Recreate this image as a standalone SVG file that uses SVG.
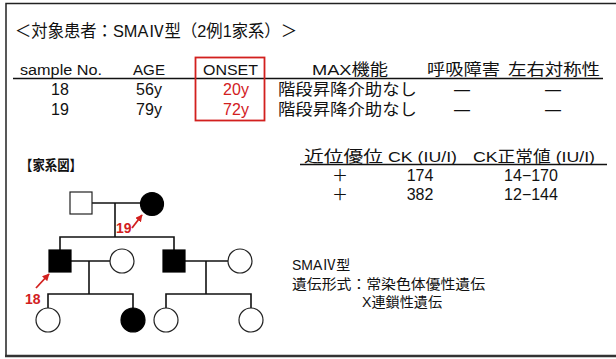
<svg xmlns="http://www.w3.org/2000/svg" width="616" height="359" viewBox="0 0 616 359">
<style>
text{font-family:"Liberation Sans","Noto Sans CJK JP",sans-serif;fill:#111}
.h{font-size:15.5px}
.t{font-size:16px}
.red{fill:#d2201e}
.c{text-anchor:middle}
.ln{stroke:#111;stroke-width:1.6;fill:none}
.open{fill:#fff;stroke:#222;stroke-width:1.2}
.fill{fill:#000;stroke:#000;stroke-width:1.2}
.arr{stroke:#d2201e;stroke-width:1.8;fill:none}
.lab{font-size:14px;font-weight:bold;fill:#d2201e}
</style>
<defs>
<marker id="ah" viewBox="0 0 10 10" refX="9" refY="5" markerWidth="4" markerHeight="4" orient="auto">
<path d="M0,0 L10,5 L0,10 z" fill="#d2201e"/>
</marker>
</defs>
<rect x="0" y="0" width="616" height="359" fill="#fff"/>
<!-- frame -->
<path d="M6,355 L6,3.5 L616,3.5" fill="none" stroke="#222" stroke-width="1.5"/>
<line x1="5" y1="356" x2="616" y2="356" stroke="#333" stroke-width="2.5"/>

<g id="title">
<text x="15" y="37" font-size="16.5" textLength="282" lengthAdjust="spacingAndGlyphs">＜対象患者：SMAⅣ型（2例1家系）＞</text>
</g>

<g id="table1">
<text class="h" x="20" y="75" textLength="82" lengthAdjust="spacingAndGlyphs">sample No.</text>
<text class="h" x="133" y="75" textLength="32" lengthAdjust="spacingAndGlyphs">AGE</text>
<text class="h" x="203" y="75" textLength="55" lengthAdjust="spacingAndGlyphs">ONSET</text>
<text class="h" x="312" y="75" textLength="76" lengthAdjust="spacingAndGlyphs">MAX機能</text>
<text class="h" x="427" y="75" textLength="73" lengthAdjust="spacingAndGlyphs">呼吸障害</text>
<text class="h" x="508" y="75" textLength="92" lengthAdjust="spacingAndGlyphs">左右対称性</text>
<line x1="13" y1="78.5" x2="603" y2="78.5" stroke="#111" stroke-width="1.6"/>
<text class="t c" x="60" y="95">18</text>
<text class="t c" x="149" y="95">56y</text>
<text class="t c red" x="236" y="95">20y</text>
<text class="t" x="278" y="95" textLength="139" lengthAdjust="spacingAndGlyphs">階段昇降介助なし</text>
<text class="t c" x="462" y="95">—</text>
<text class="t c" x="553" y="95">—</text>
<text class="t c" x="60" y="115">19</text>
<text class="t c" x="149" y="115">79y</text>
<text class="t c red" x="236" y="115">72y</text>
<text class="t" x="278" y="115" textLength="139" lengthAdjust="spacingAndGlyphs">階段昇降介助なし</text>
<text class="t c" x="462" y="115">—</text>
<text class="t c" x="553" y="115">—</text>
<rect x="195.5" y="57.5" width="69" height="63" fill="none" stroke="#d2201e" stroke-width="1.8"/>
</g>

<g id="table2">
<text class="h" x="304" y="162" textLength="79" lengthAdjust="spacingAndGlyphs">近位優位</text>
<text class="h" x="388" y="162" textLength="69" lengthAdjust="spacingAndGlyphs">CK (IU/I)</text>
<text class="h" x="473" y="162" textLength="122" lengthAdjust="spacingAndGlyphs">CK正常値 (IU/I)</text>
<line x1="300" y1="164.5" x2="607" y2="164.5" stroke="#111" stroke-width="1.6"/>
<text class="t c" x="340" y="181">＋</text>
<text class="t c" x="420" y="181">174</text>
<text class="t c" x="531" y="181">14−170</text>
<text class="t c" x="340" y="200">＋</text>
<text class="t c" x="420" y="200">382</text>
<text class="t c" x="531" y="200">12−144</text>
</g>

<g id="notes">
<text x="292" y="270" font-size="14">SMAⅣ型</text>
<text x="292" y="289" font-size="14" textLength="193" lengthAdjust="spacingAndGlyphs">遺伝形式：常染色体優性遺伝</text>
<text x="362" y="307" font-size="14" textLength="80" lengthAdjust="spacingAndGlyphs">X連鎖性遺伝</text>
</g>

<g id="pedigree-title">
<text x="20" y="170" font-size="14" font-weight="bold" textLength="62" lengthAdjust="spacingAndGlyphs">【家系図】</text>
</g>

<g id="connectors">
<path class="ln" d="M92,203 H140"/>
<path class="ln" d="M115,203 V237"/>
<path class="ln" d="M60,250 V237 H174 V250"/>
<path class="ln" d="M71,261 H110"/>
<path class="ln" d="M89,261 V294"/>
<path class="ln" d="M48,308 V294 H133 V308"/>
<path class="ln" d="M185,261 H228"/>
<path class="ln" d="M206,261 V294"/>
<path class="ln" d="M166,308 V294 H251 V308"/>
<line class="arr" x1="132" y1="228" x2="142" y2="215" marker-end="url(#ah)"/>
<line class="arr" x1="36" y1="288" x2="49" y2="274" marker-end="url(#ah)"/>
</g>

<g id="I-1"><rect class="open" x="70" y="192" width="22" height="22"/></g>
<g id="I-2"><circle class="fill" cx="152" cy="204" r="11.5"/></g>
<g id="II-1"><rect class="fill" x="49" y="250" width="22" height="22"/></g>
<g id="II-2"><circle class="open" cx="122" cy="261" r="12"/></g>
<g id="II-3"><rect class="fill" x="163" y="250" width="22" height="22"/></g>
<g id="II-4"><circle class="open" cx="240" cy="261" r="12"/></g>
<g id="III-1"><circle class="open" cx="48" cy="320" r="12"/></g>
<g id="III-2"><circle class="fill" cx="133" cy="320" r="12"/></g>
<g id="III-3"><circle class="open" cx="166" cy="320" r="12"/></g>
<g id="III-4"><circle class="open" cx="251" cy="320" r="12"/></g>

<g id="labels">
<text class="lab" x="116" y="233">19</text>
<text class="lab" x="25" y="304">18</text>
</g>
</svg>
